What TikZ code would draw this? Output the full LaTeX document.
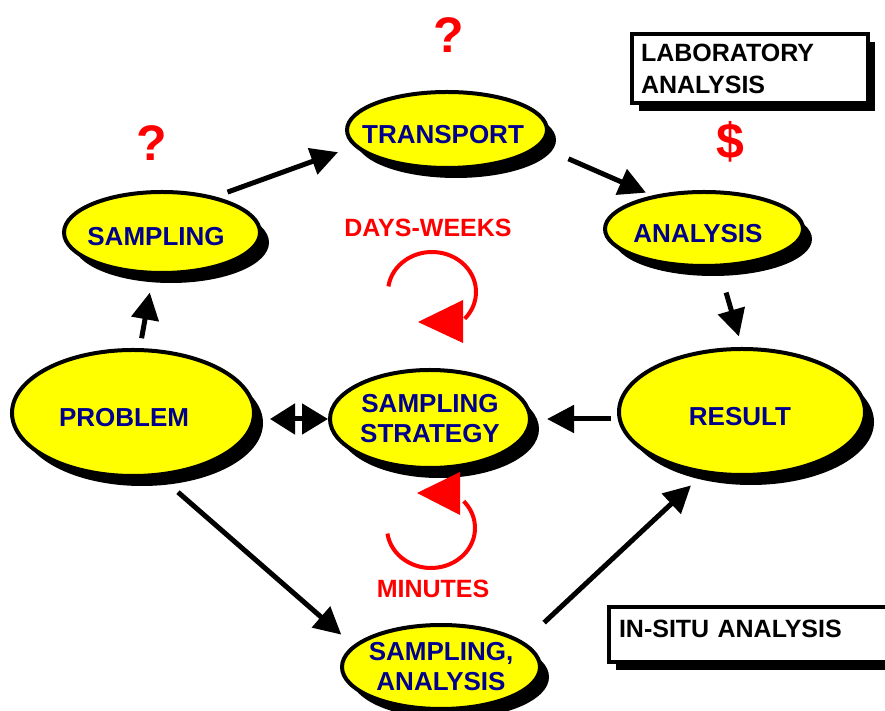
\documentclass[tikz,border=0pt]{standalone}
\usepackage{fontspec}
\setmainfont{Liberation Sans}
\usetikzlibrary{shapes.geometric,shadows,arrows.meta,calc}
\definecolor{navyt}{RGB}{0,0,140}
\definecolor{yel}{RGB}{255,255,0}
\definecolor{redt}{RGB}{255,0,0}
\begin{document}
\begin{tikzpicture}[x=1pt,y=1pt,
  ell/.style={ellipse, draw=black, line width=4pt, fill=yel, inner xsep=-40pt, inner ysep=-12pt,
    text=navyt, font=\fontsize{26}{30}\selectfont\bfseries, align=center,
    drop shadow={shadow xshift=9pt, shadow yshift=-10pt, fill=black, opacity=1}},
  oneline/.style={text height=27pt, text depth=0pt},
  arr/.style={line width=5pt, -{Triangle[length=27pt,width=27pt]}},
  darr/.style={line width=5pt, {Triangle[length=25pt,width=30pt]}-{Triangle[length=26pt,width=30pt]}},
  infobox/.style={rectangle, draw=black, line width=4pt, fill=white, anchor=north west,
    font=\fontsize{25}{32}\selectfont\bfseries, align=left, inner xsep=9pt,
    drop shadow={shadow xshift=7pt, shadow yshift=-8pt, fill=black, opacity=1}},
  redlab/.style={text=redt, font=\fontsize{25}{30}\selectfont\bfseries, inner sep=0pt},
  bigred/.style={text=redt, font=\fontsize{50}{55}\selectfont\bfseries, inner sep=0pt},
  loop/.style={draw=redt, line width=4pt}
]
\useasboundingbox (0,0) rectangle (885,711);
\clip (0,0) rectangle (885,711);

% ellipses
\node[ell, oneline, minimum width=196pt, minimum height=81pt] (samp) at (162,478.5) {\hspace*{-12pt}SAMPLING};
\node[ell, oneline, minimum width=200pt, minimum height=76pt] (trans) at (447,581) {\hspace*{-8pt}TRANSPORT};
\node[ell, oneline, minimum width=198pt, minimum height=74pt] (ana) at (704,482) {\hspace*{-12pt}ANALYSIS};
\node[ell, oneline, minimum width=242pt, minimum height=126pt] (prob) at (133,298) {\hspace*{-18pt}PROBLEM};
\node[ell, minimum width=200pt, minimum height=98pt] (strat) at (430,292) {SAMPLING\\STRATEGY};
\node[ell, oneline, minimum width=246pt, minimum height=126pt] (res) at (742,299) {\hspace*{-4pt}RESULT};
\node[ell, minimum width=198pt, minimum height=84pt] (sa) at (441,44) {SAMPLING,\\ANALYSIS};

% boxes
\node[infobox, minimum height=69pt, text width=218pt] (lab) at (630,679) {LABORATORY\\ANALYSIS};
\node[infobox, minimum height=55pt, text width=300pt, inner xsep=10pt, text depth=12pt] (insitu) at (607,106) {IN-SITU ANALYSIS};

% red labels
\node[redlab] (dw) at (428,483) {DAYS-WEEKS};
\node[redlab] (mn) at (433,122) {MINUTES};
\node[bigred] (q1) at (152,568) {?};
\node[bigred] (q2) at (449,676) {?};
\node[bigred] (dl) at (730,569) {\$};

% connectors
\draw[arr, shorten <=10pt, shorten >=18pt] (prob.84.5) -- (samp.258.4);
\draw[arr, shorten <=13pt, shorten >=17pt] (samp.34.9) -- (trans.190.6);
\draw[arr, shorten <=31pt, shorten >=7pt] (trans.-10.85) -- (ana.147.3);
\draw[arr, shorten <=26pt, shorten >=11pt] (ana.-69.3) -- (res.90);
\draw[arr, shorten <=6pt, shorten >=15pt] (strat.east -| res.west) -- (strat.east);
\draw[darr, shorten <=14pt] (strat.west -| prob.east) -- (strat.west);
\draw[arr, shorten <=24pt, shorten >=16pt] (prob.-67.4) -- (sa.166.9);
\draw[arr, shorten <=28pt, shorten >=17pt] (sa.17.8) -- (res.238);

% red loops
\draw[loop] (432,419) ++(172:44 and 40) arc[start angle=172, end angle=-42, x radius=44, y radius=40];
\fill[redt] (418,389) -- (463,411) -- (463,368) -- cycle;
\draw[loop] (431,183) ++(188:44 and 40) arc[start angle=188, end angle=402, x radius=44, y radius=40];
\fill[redt] (417,218) -- (460,239) -- (460,196) -- cycle;
\end{tikzpicture}
\end{document}
